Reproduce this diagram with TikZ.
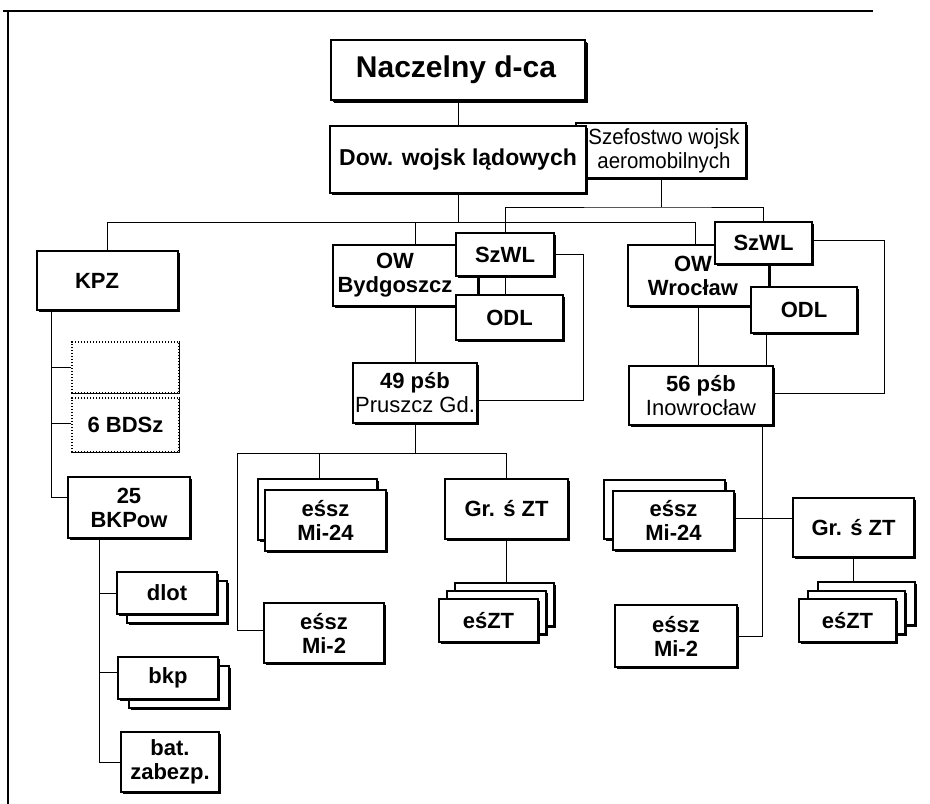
\documentclass[tikz,border=0pt]{standalone}
\usepackage{fontspec}
\setmainfont{Liberation Sans}
\usetikzlibrary{shadows}
\newcommand\bx[7][]{\node[box,#1,minimum width={(#5)-(#3)},minimum height={(#6)-(#4)}] (#2) at ({((#3)+(#5))/2},{((#4)+(#6))/2}) {#7};}
\begin{document}
\begin{tikzpicture}[x=1pt,y=-1pt,
  box/.style={draw, line width=1.2pt, fill=white, inner sep=0pt, align=center,
    font=\bfseries\fontsize{22}{24}\selectfont,
    drop shadow={shadow xshift=1.5pt, shadow yshift=-1.5pt, opacity=1, fill=black}},
  bigbox/.style={line width=2.4pt, drop shadow={shadow xshift=3pt, shadow yshift=-3pt, opacity=1, fill=black}},
  dotbox/.style={draw, dash pattern=on 1.2pt off 1.8pt, line width=1.2pt, fill=white, inner sep=0pt,
    font=\bfseries\fontsize{22}{24}\selectfont},
  txt/.style={inner sep=0pt, align=center, font=\bfseries\fontsize{22}{24}\selectfont},
  conn/.style={line width=0.9pt},
]
\useasboundingbox (0,0) rectangle (930,804);
\fill[white] (0,0) rectangle (930,804);
% frame
\draw[line width=2.5pt] (3,11) -- (873,11);
\draw[line width=2pt] (8,11) -- (8,804);

% top
\bx[bigbox]{nacz}{331}{40}{585}{100}{}
\node[txt, font=\bfseries\fontsize{30}{32}\selectfont] (naczt) at (456,70) {Naczelny d-ca};
\bx{szef}{576}{123}{746}{178}{}
\node[txt, font=\fontsize{22}{24}\selectfont] (szeft) at (664,151) {\scalebox{0.93}[1]{Szefostwo wojsk}\\\scalebox{0.93}[1]{aeromobilnych}};
\bx[font=\bfseries\fontsize{23}{25}\selectfont]{dow}{330}{126}{586}{193}{Dow. wojsk lądowych}

% level 2
\bx{kpz}{37}{251}{178}{310}{}
\node[txt] (kpzt) at (97,280.5) {KPZ};
\bx{owb}{333}{245}{478}{306}{}
\node[txt] (owbt) at (395,275.5) {OW\\Bydgoszcz};
\bx{szwla}{456}{233}{554}{276}{SzWL}
\bx{odla}{456}{295}{563}{340}{ODL}
\bx{oww}{628}{245}{769}{306}{}
\node[txt] (owwt) at (693,275.5) {OW\\Wrocław};
\bx{szwlb}{715}{222}{812}{264}{SzWL}
\bx{odlb}{751}{287}{857}{333}{ODL}
\bx{psba}{353}{363}{477}{423}{49 pśb\\{\mdseries Pruszcz Gd.}}
\bx{psbb}{629}{366}{773}{425}{56 pśb\\{\mdseries Inowrocław}}

% KPZ column
\node[dotbox, minimum width=107, minimum height=51] (dota) at (125.5,367.5) {};
\draw[line width=1.6pt] (dota.north east) -- (dota.south east) -- (dota.south west);
\node[dotbox, minimum width=107, minimum height=54] (dotb) at (125.5,425) {6 BDSz};
\draw[line width=1.6pt] (dotb.north east) -- (dotb.south east) -- (dotb.south west);
\bx{bkpow}{68}{477}{190}{538}{25\\BKPow}
\bx{dlotB}{127}{581}{227}{623}{}
\bx{dlot}{117}{572}{217}{614}{dlot}
\bx{bkpB}{129}{666}{229}{708}{}
\bx{bkp}{118}{657}{218}{699}{bkp}
\bx{bat}{121}{732}{219}{792}{bat.\\zabezp.}

% 49 psb subtree
\bx{miaB}{258}{479}{377}{540}{}
\bx{mia}{265}{490}{386}{551}{eśsz\\Mi-24}
\bx{gra}{445}{479}{568}{539}{Gr. ś ZT}
\bx{mta}{264}{603}{384}{663}{eśsz\\Mi-2}
\bx{ezaC}{455}{583}{554}{626}{}
\bx{ezaB}{447}{591}{546}{634}{}
\bx{eza}{439}{599}{538}{642}{eśZT}

% 56 psb subtree
\bx{mibB}{604}{480}{725}{539}{}
\bx{mib}{613}{491}{734}{550}{eśsz\\Mi-24}
\bx{grb}{793}{498}{914}{557}{Gr. ś ZT}
\bx{mtb}{615}{605}{737}{667}{eśsz\\Mi-2}
\bx{ezbC}{818}{582}{915}{625}{}
\bx{ezbB}{808}{591}{905}{634}{}
\bx{ezb}{799}{599}{896}{642}{eśZT}

% connectors top
\coordinate (b1) at (458,223);
\coordinate (b2) at (661,207);
\draw[conn] (nacz.south) -- (dow.north);
\draw[conn] (dow.south) -- (b1);
\draw[conn] (kpz.north) -- ++(0,-28) -| ([xshift=-3pt]oww.north);
\draw[conn] (psba.north |- b1) -- (psba.north |- owb.north);
\draw[conn] (szef.south) -- (b2);
\draw[conn] (szwla.north) |- (b2) -| (szwlb.north);
\draw[conn] (szwla.south) -- (szwla.south |- odla.north);
\coordinate (c1) at (583,400);
\draw[conn] (szwla.east) -| (c1) -- (c1 -| psba.east);
\coordinate (c2) at (884,393);
\draw[conn] ([yshift=3pt]szwlb.east) -| (c2) -- (c2 -| psbb.east);
\draw[conn] (psba.north |- owb.south) -- (psba.north);
\draw[conn] (oww.south) -- (oww.south |- psbb.north);
\draw[conn] ([xshift=-38pt]odlb.south) -- ([xshift=-38pt]odlb.south |- psbb.north);

% KPZ tree
\coordinate (kx) at ([xshift=15pt]kpz.south west);
\draw[conn] (kx) |- ([yshift=10pt]bkpow.west);
\draw[conn] (dota.west) -- (dota.west -| kx);
\draw[conn] ([yshift=2pt]dotb.west) -- ([yshift=2pt]dotb.west -| kx);
\coordinate (bxx) at ([xshift=32pt]bkpow.south west);
\draw[conn] (bxx) |- (bat.west);
\draw[conn] (dlot.west) -- (dlot.west -| bxx);
\draw[conn] ([yshift=6pt]bkp.west) -- ([yshift=6pt]bkp.west -| bxx);

% 49 psb tree
\coordinate (p1) at (415,453);
\coordinate (p1l) at (237,453);
\draw[conn] (psba.south) -- (p1);
\draw[conn] ([yshift=3pt]mta.west) -| (p1l) -| (gra.north);
\draw[conn] ([xshift=2pt]miaB.north) -- ([xshift=2pt]miaB.north |- p1);
\draw[conn] (gra.south) -- (gra.south |- ezaC.north);

% 56 psb tree
\draw[conn] ([xshift=61pt]psbb.south) |- (mtb.east);
\draw[conn] ([yshift=2pt]mib.east) -- ([yshift=2pt]mib.east -| grb.west);
\draw[conn] (grb.south) -- (grb.south |- ezbC.north);
\end{tikzpicture}
\end{document}
